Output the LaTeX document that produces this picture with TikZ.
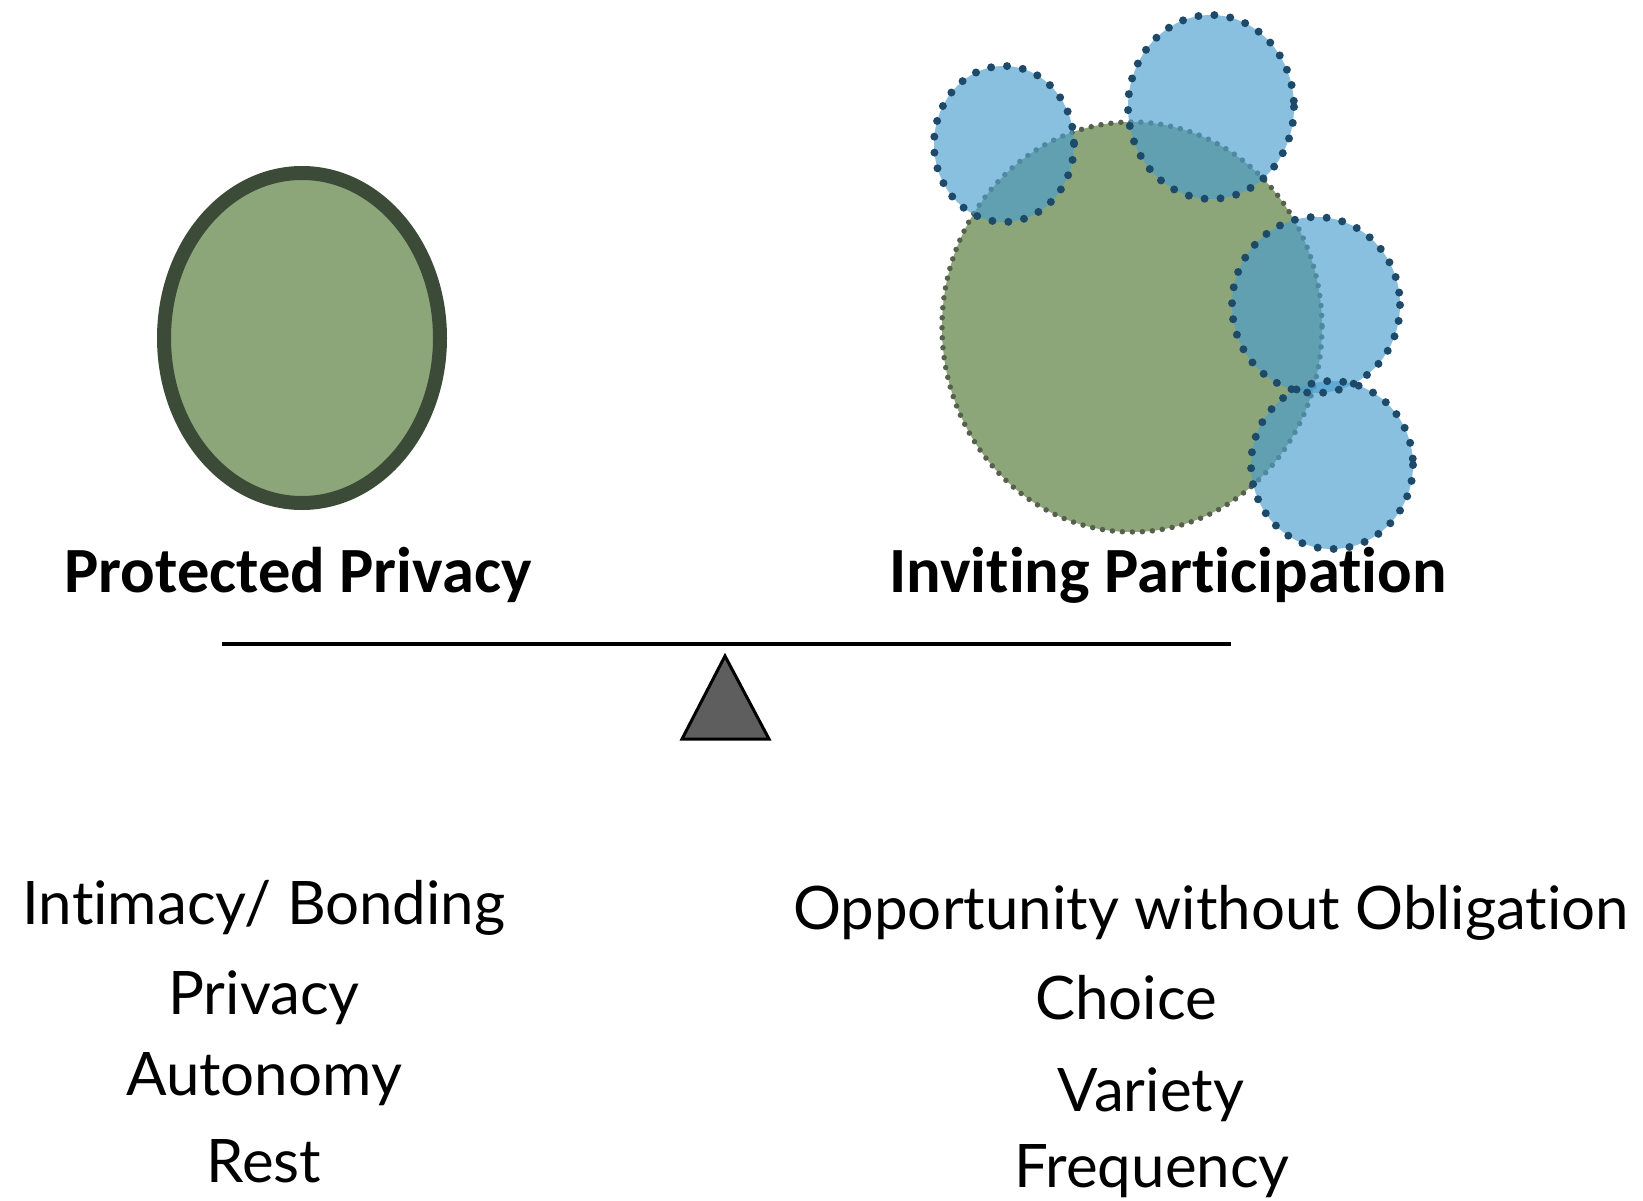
\documentclass[tikz,border=0pt]{standalone}
\usepackage{fontspec}
\newfontfamily\labfont[Ligatures=NoCommon]{Carlito}
\newfontfamily\listfont[Ligatures=NoCommon]{Lato}
\definecolor{leafgreen}{HTML}{8CA67A}
\definecolor{darkrim}{HTML}{3C4B38}
\definecolor{greenrim}{HTML}{56604C}
\definecolor{bubblefill}{HTML}{4A9ED0}
\definecolor{bubblerim}{HTML}{1E4A6A}
\definecolor{pivotgrey}{HTML}{5E5E5E}
\begin{document}
\begin{tikzpicture}[x=1pt,y=-1pt,
  bubble/.style={fill=bubblefill,fill opacity=0.65,draw=none},
  bubblerimstyle/.style={draw=bubblerim,line width=8pt,line cap=round,dash pattern=on 0pt off 16pt},
  headlabel/.style={font=\labfont\bfseries\fontsize{64.5}{70}\selectfont,anchor=base,inner sep=0pt},
  listlabel/.style={font=\listfont\fontsize{60}{66}\selectfont,anchor=base,inner sep=0pt}]
\useasboundingbox (0,0) rectangle (1643,1201);
% left ellipse
\draw[fill=leafgreen,draw=darkrim,line width=14pt] (302,338) ellipse [x radius=138,y radius=165];
% right big ellipse
\fill[leafgreen] (1132,327) ellipse [x radius=190,y radius=205];
\draw[draw=greenrim,line width=5.5pt,line cap=round,dash pattern=on 0pt off 10pt] (1132,327) ellipse [x radius=190,y radius=205];
% bubbles
\fill[bubble] (1004,144) ellipse [x radius=70,y radius=78];
\fill[bubble] (1211,107) ellipse [x radius=83,y radius=92];
\fill[bubble] (1316,305) ellipse [x radius=84,y radius=88];
\fill[bubble] (1332,465) ellipse [x radius=81,y radius=84];
\draw[bubblerimstyle] (1004,144) ellipse [x radius=70,y radius=78];
\draw[bubblerimstyle] (1211,107) ellipse [x radius=83,y radius=92];
\draw[bubblerimstyle] (1316,305) ellipse [x radius=84,y radius=88];
\draw[bubblerimstyle] (1332,465) ellipse [x radius=81,y radius=84];
% labels
\node[headlabel] (pp) at (298,592) {Protected Privacy};
\node[headlabel] (ip) at (1168,592) {Inviting Participation};
% beam and pivot
\coordinate (beamL) at (222,644);
\coordinate (beamR) at (1231,644);
\draw[line width=4pt] (beamL) -- (beamR);
\draw[fill=pivotgrey,draw=black,line width=3pt,line join=miter] (725,656) -- (769,739) -- (682,739) -- cycle;
% lists
\node[listlabel] (l1) at (264,924) {Intimacy/ Bonding};
\node[listlabel] (l2) at (264,1014) {Privacy};
\node[listlabel] (l3) at (264,1095) {Autonomy};
\node[listlabel] (l4) at (264,1182) {Rest};
\node[listlabel] (r1) at (1211,929) {Opportunity without Obligation};
\node[listlabel] (r2) at (1126,1019) {Choice};
\node[listlabel] (r3) at (1151,1111) {Variety};
\node[listlabel] (r4) at (1152,1187) {Frequency};
\end{tikzpicture}
\end{document}
